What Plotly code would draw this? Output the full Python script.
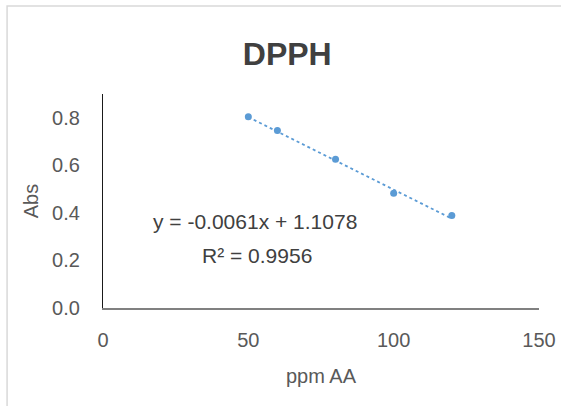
import plotly.graph_objects as go

# Data
ppm_aa = [50, 60, 80, 100, 120]
absorbance = [0.804, 0.747, 0.626, 0.483, 0.389]
slope = -0.0061
intercept = 1.1078
r_squared = 0.9956
x_ticks = [0, 50, 100, 150]
y_ticks = [0.0, 0.2, 0.4, 0.6, 0.8]

blue = "#5b9bd5"
font_main = "Liberation Sans"

trend_x = [min(ppm_aa), max(ppm_aa)]
trend_y = [slope * v + intercept for v in trend_x]

fig = go.Figure()
fig.add_trace(go.Scatter(x=trend_x, y=trend_y, mode="lines",
                         line=dict(color=blue, width=1.8, dash="dot"),
                         hoverinfo="skip", showlegend=False))
fig.add_trace(go.Scatter(x=ppm_aa, y=absorbance, mode="markers",
                         marker=dict(color=blue, size=7),
                         showlegend=False))

fig.update_layout(
    width=561, height=406,
    margin=dict(l=103, r=22, t=94, b=98),
    paper_bgcolor="white", plot_bgcolor="white",
    font=dict(family=font_main, color="#595959", size=20),
    title=dict(text="<b>DPPH</b>", x=0.512, xanchor="center", y=0.868, yanchor="middle",
               font=dict(family=font_main, size=32, color="#404040")),
    xaxis=dict(range=[0, 150], tickvals=x_ticks, ticktext=[str(v) for v in x_ticks],
               showgrid=False, zeroline=False, showline=True, linecolor="#808080", linewidth=2,
               ticks="", ticklabelstandoff=13, automargin=False,
               title=dict(text="ppm AA", standoff=19, font=dict(size=20, color="#595959"))),
    yaxis=dict(range=[0, 0.9], tickvals=y_ticks, ticktext=[f"{v:.1f}" for v in y_ticks],
               showgrid=False, zeroline=False, showline=True, linecolor="#1a1a1a", linewidth=1.2,
               ticks="", ticklabelstandoff=18, automargin=False,
               title=dict(text="Abs", standoff=8, font=dict(size=20, color="#595959"))),
    annotations=[
        dict(x=52.3, y=0.362, xref="x", yref="y", showarrow=False,
             text=f"y = {slope}x + {intercept}", font=dict(size=21, color="#404040")),
        dict(x=53.0, y=0.222, xref="x", yref="y", showarrow=False,
             text=f"R² = {r_squared}", font=dict(size=21, color="#404040")),
    ],
    shapes=[
        dict(type="rect", xref="paper", yref="paper", x0=-0.22, x1=1.6, y0=-0.7, y1=1.411,
             line=dict(color="#d9d9d9", width=1.5), fillcolor="rgba(0,0,0,0)", layer="below"),
    ],
)

fig.write_html("out.html", config={"displayModeBar": False},
               post_script="document.body.style.margin='0';document.body.style.overflow='hidden';")
